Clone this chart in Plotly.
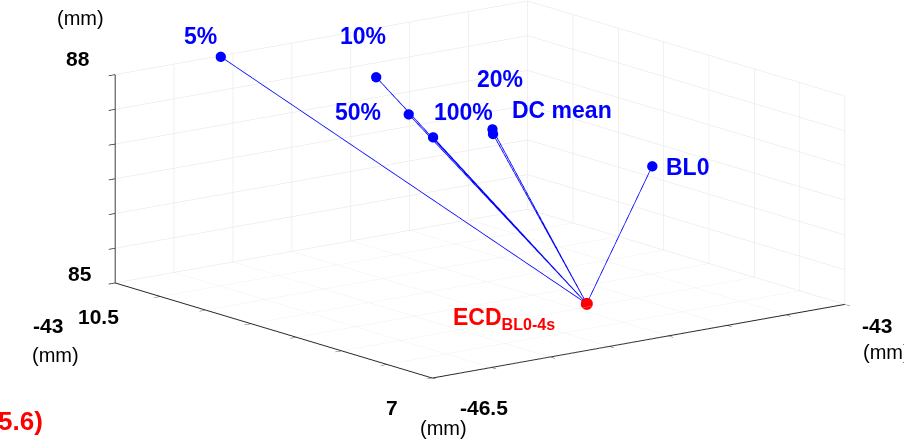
import plotly.graph_objects as go

# ---- data ----
labels = ["5%", "10%", "50%", "100%", "20%", "DC mean", "BL0"]
pos_b = [-45.62, -44.54, -44.41, -44.38, -44.23, -44.31, -43.42]   # x axis (-46.5 .. -43 mm)
pos_a = [10.48, 10.17, 9.98, 9.75, 9.29, 9.18, 8.58]               # y axis (7 .. 10.5 mm)
pos_z = [88.0, 87.5, 87.0, 86.75, 87.0, 87.0, 86.5]                # z axis (85 .. 88 mm)
ecd_label = "ECD<sub>BL0-4s</sub>"
ecd_b, ecd_a, ecd_z = -44.36, 8.08, 85.0

x_range = [-46.5, -43.0]
y_range = [7.0, 10.5]
z_range = [85.0, 88.0]
x_ticks = [-46.5, -46.0, -45.5, -45.0, -44.5, -44.0, -43.5, -43.0]
y_ticks = [7.0, 7.5, 8.0, 8.5, 9.0, 9.5, 10.0, 10.5]
z_ticks = [85.0, 85.5, 86.0, 86.5, 87.0, 87.5, 88.0]

# label offsets in px (x right, y up) relative to each point
lab_dx = [-20, -13, -51, 30, 8, 69, 35]
lab_dy = [21, 41, 2, 25, 50, 24, -1]

FONT = "Liberation Sans"
BLUE = "#0000ff"
RED = "#ff0000"
INK = "#000000"

lx, ly, lz = [], [], []
for b, a, z in zip(pos_b, pos_a, pos_z):
    lx += [b, ecd_b, None]
    ly += [a, ecd_a, None]
    lz += [z, ecd_z, None]

fig = go.Figure()
fig.add_trace(go.Scatter3d(x=lx, y=ly, z=lz, mode="lines",
                           line=dict(color=BLUE, width=1.6), hoverinfo="skip", showlegend=False))
fig.add_trace(go.Scatter3d(x=pos_b, y=pos_a, z=pos_z, mode="markers",
                           marker=dict(color=BLUE, size=6, line=dict(width=0)),
                           hoverinfo="skip", showlegend=False))
fig.add_trace(go.Scatter3d(x=[ecd_b], y=[ecd_a], z=[ecd_z], mode="markers",
                           marker=dict(color=RED, size=7, line=dict(width=0)),
                           hoverinfo="skip", showlegend=False))

scene_ann = []
for t, b, a, z, dx, dy in zip(labels, pos_b, pos_a, pos_z, lab_dx, lab_dy):
    scene_ann.append(dict(x=b, y=a, z=z, text="<b>%s</b>" % t, showarrow=False,
                          xanchor="center", yanchor="middle", xshift=dx, yshift=dy,
                          font=dict(family=FONT, size=23, color=BLUE)))
scene_ann.append(dict(x=ecd_b, y=ecd_a, z=ecd_z, text="<b>%s</b>" % ecd_label, showarrow=False,
                      xanchor="center", yanchor="middle", xshift=-83, yshift=-15,
                      font=dict(family=FONT, size=23, color=RED)))

# end tick labels and axis titles, anchored at the box corners
x0, x1 = x_range
y0, y1 = y_range
z0, z1 = z_range
tick_lab = [
    ("88", x0, y1, z1, -37, 16, True),
    ("85", x0, y1, z0, -35, 9, True),
    ("10.5", x0, y1, z0, -17, -34, True),
    ("7", x0, y0, z0, -40, -29, True),
    ("-46.5", x0, y0, z0, 52, -29, True),
    ("-43", x1, y0, z0, 32, -21, True),
    ("(mm)", x0, y1, z1, -35, 57, False),
    ("(mm)", x0, y0, z0, 11, -50, False),
    ("(mm)", x1, y0, z0, 42, -48, False),
]
for t, xx, yy, zz, dx, dy, bold in tick_lab:
    scene_ann.append(dict(x=xx, y=yy, z=zz, text=("<b>%s</b>" % t) if bold else t, showarrow=False,
                          xanchor="center", yanchor="middle", xshift=dx, yshift=dy,
                          font=dict(family=FONT, size=21 if bold else 20, color=INK)))

def axis(rng, tv):
    return dict(range=rng, autorange=False, tickvals=tv, showticklabels=False,
                showgrid=True, gridcolor="#e3e3e3", gridwidth=1,
                showbackground=False, zeroline=False,
                showline=True, linecolor="#262626", linewidth=2,
                ticks="outside", ticklen=8, tickwidth=1.5, tickcolor="#262626",
                showspikes=False, title=dict(text=""))

fig.update_layout(
    width=904, height=448,
    margin=dict(l=0, r=0, t=0, b=0),
    paper_bgcolor="white",
    showlegend=False,
    scene=dict(
        domain=dict(x=[0.062, 1.0], y=[0.154, 1.0]),
        xaxis=axis(x_range, x_ticks),
        yaxis=axis(y_range, y_ticks),
        zaxis=axis(z_range, z_ticks),
        aspectmode="manual",
        aspectratio=dict(x=2.75, y=2.74, z=1.13),
        camera=dict(eye=dict(x=-0.5944 * 3, y=-0.7703 * 3, z=0.2313 * 3),
                    up=dict(x=0, y=0, z=1), center=dict(x=0, y=0, z=0),
                    projection=dict(type="orthographic")),
        annotations=scene_ann,
    ),
)
# fragments of the neighbouring (cropped) panel on the left
anns = [
    ("-43", 48, 325, "center", 21, INK, True),
    ("(mm)", 55, 355, "center", 20, INK, False),
    ("5.6)", 45, 421, "right", 26, RED, True),
]
for t, px, py, xa, sz, col, bold in anns:
    fig.add_annotation(text=("<b>%s</b>" % t) if bold else t, x=px / 904, y=1 - py / 448,
                       xref="paper", yref="paper", showarrow=False, xanchor=xa, yanchor="middle",
                       font=dict(family=FONT, size=sz, color=col))

fig.write_html("out.html")
